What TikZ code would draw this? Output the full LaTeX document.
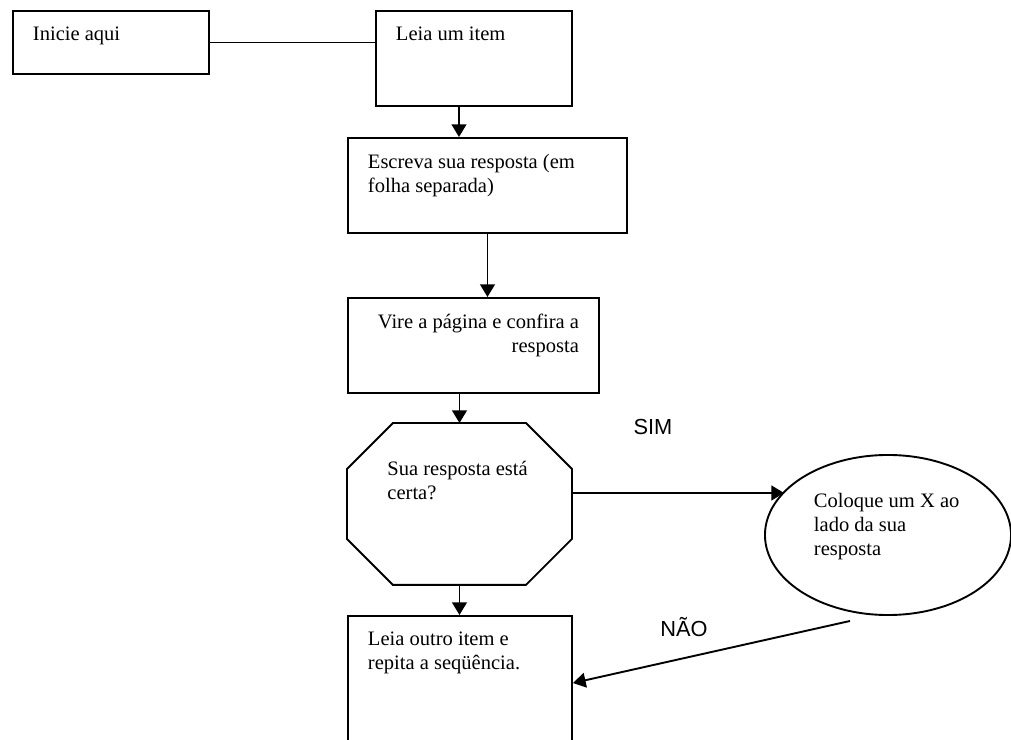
\documentclass[tikz,border=0pt]{standalone}
\usepackage{fontspec}
\setmainfont{Liberation Serif}
\newfontfamily\rotulofont{Liberation Sans}
\usetikzlibrary{arrows.meta,shapes.geometric}
\newcommand{\texto}[3]{\begin{minipage}[t][#2][t]{#1}\raggedright #3\end{minipage}}

\begin{document}
\begin{tikzpicture}[x=0.025cm,y=-0.025cm,>={Triangle[length=9pt,width=10.5pt]},
                    line width=1.35pt,font=\fontsize{14.6}{17.1}\selectfont]
  \tikzstyle{passo}=[draw,rectangle,anchor=north west,inner xsep=0.5cm,inner ysep=0.4cm]
  \tikzstyle{decisao}=[rectangle,anchor=north west,inner sep=0pt,
    minimum width=5.575cm,minimum height=4cm]
  \tikzstyle{acao}=[draw,ellipse,inner sep=0pt,minimum width=6.15cm,minimum height=4cm]
  \tikzstyle{rotulo}=[anchor=base,inner sep=0pt,font=\rotulofont\fontsize{15.5}{18}\selectfont]

  \clip (0,0) rectangle (1011,740);

  \node[passo] (Inicio) at (12,10)   {\texto{3.9cm}{0.775cm}{Inicie aqui}};
  \node[passo] (Leia) at (375,10)    {\texto{3.9cm}{1.575cm}{Leia um item}};
  \node[passo] (Escreva) at (347,137) {\texto{5.975cm}{1.575cm}{Escreva sua resposta (em\\folha separada)}};
  \node[passo] (Vire) at (347,297)   {\texto{5.275cm}{1.575cm}{\raggedleft Vire a página e confira a\\resposta}};
  \node[decisao] (Decisao) at (347,423) {\texto{3.6cm}{2.15cm}{Sua resposta está\\certa?}};
  \node[acao] (Marca) at (888,535)   {\texto{3.7cm}{2.1cm}{Coloque um X ao\\lado da sua\\resposta}};
  \node[passo] (Outro) at (347,615)  {\texto{4.6cm}{2.825cm}{Leia outro item e\\repita a seqüência.}};

  % octagon round the question
  \draw ([xshift=1.15cm]Decisao.north west) -- ([xshift=-1.15cm]Decisao.north east)
     -- ([yshift=-1.15cm]Decisao.north east) -- ([yshift=1.15cm]Decisao.south east)
     -- ([xshift=-1.15cm]Decisao.south east) -- ([xshift=1.15cm]Decisao.south west)
     -- ([yshift=1.15cm]Decisao.south west) -- ([yshift=-1.15cm]Decisao.north west) -- cycle;

  \node[rotulo] (Sim) at (653,435) {SIM};
  \node[rotulo] (Nao) at (684,636) {NÃO};

  \draw
        (Inicio.east) edge (Inicio.east -| Leia.west)
        ([xshift=-0.375cm]Leia.south) edge[->] ([xshift=-0.375cm]Leia.south |- Escreva.north)
        (Escreva.south) edge[->] (Escreva.south |- Vire.north)
        (Vire.south -| Decisao.north) edge[->] (Decisao.north)
        (Decisao.south) edge[->] (Decisao.south |- Outro.north)
        ([yshift=0.275cm]Decisao.east) edge[->] ([yshift=0.275cm]Decisao.east -| Marca.157.5)
        ([shift={(-0.95cm,-0.125cm)}]Marca.south) edge[->] ([yshift=-1.7cm]Outro.north east);
\end{tikzpicture}
\end{document}
